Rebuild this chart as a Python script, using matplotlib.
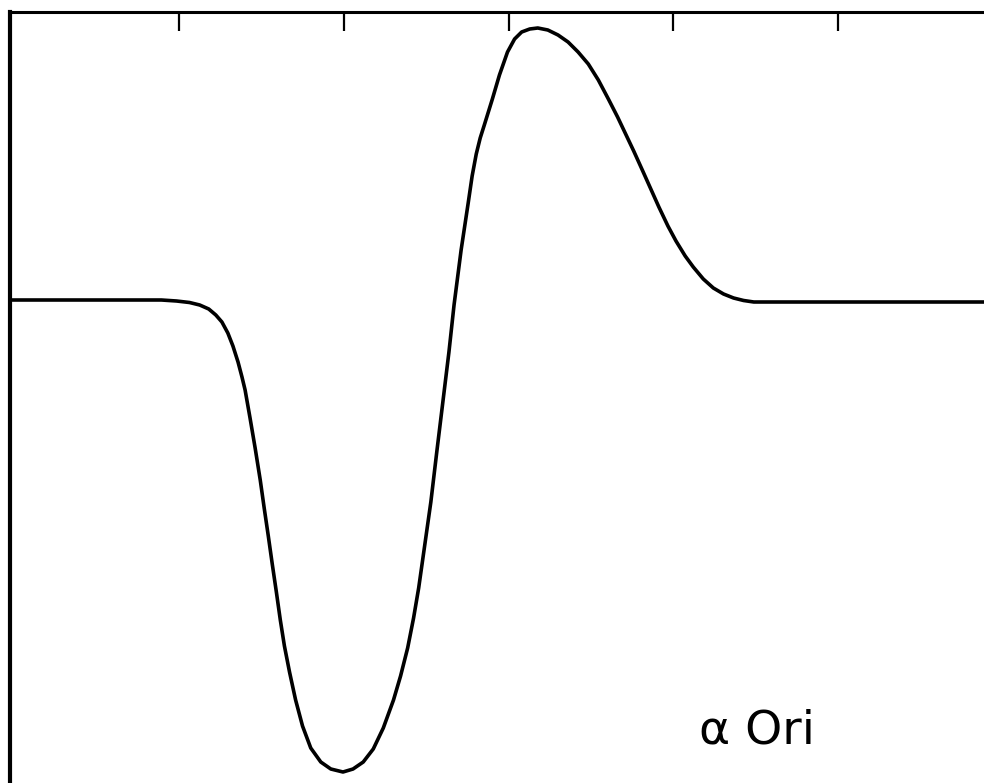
import matplotlib
matplotlib.use("Agg")
import matplotlib.pyplot as plt

# Line profile (arbitrary units)
x_vals = [-1.031, -0.479, -0.110, -0.018, 0.061, 0.123, 0.178, 0.221, 0.258, 0.294,
          0.325, 0.356, 0.380, 0.399, 0.429, 0.460, 0.491, 0.515, 0.540, 0.564,
          0.589, 0.613, 0.638, 0.669, 0.706, 0.748, 0.798, 0.859, 0.920, 0.994,
          1.055, 1.117, 1.178, 1.239, 1.301, 1.344, 1.387, 1.423, 1.454, 1.485,
          1.528, 1.564, 1.601, 1.638, 1.669, 1.712, 1.755, 1.779, 1.804, 1.828,
          1.853, 1.902, 1.945, 1.994, 2.037, 2.080, 2.129, 2.178,
          2.239, 2.301, 2.362, 2.423, 2.485, 2.546, 2.607, 2.663, 2.712, 2.761,
          2.816, 2.865, 2.914, 2.969, 3.018, 3.074, 3.123, 3.184, 3.245, 3.307,
          3.368, 3.429, 3.491, 4.123, 4.945]
y_vals = [0.00, 0.00, 0.00, -0.01, -0.025, -0.05, -0.09, -0.15, -0.22, -0.33,
          -0.46, -0.62, -0.77, -0.90, -1.18, -1.48, -1.80, -2.08, -2.36, -2.64,
          -2.92, -3.20, -3.46, -3.72, -4.00, -4.26, -4.48, -4.62, -4.69, -4.72,
          -4.69, -4.62, -4.49, -4.28, -4.00, -3.76, -3.48, -3.18, -2.88, -2.52,
          -2.02, -1.52, -1.02, -0.52, -0.05, 0.50, 0.97, 1.24, 1.46, 1.62,
          1.75, 2.01, 2.25, 2.48, 2.61, 2.68, 2.71, 2.72,
          2.70, 2.65, 2.58, 2.48, 2.36, 2.20, 2.01, 1.83, 1.66, 1.49,
          1.29, 1.11, 0.93, 0.74, 0.59, 0.44, 0.33, 0.21, 0.12, 0.06,
          0.02, -0.005, -0.02, -0.02, -0.02]
x_ticks = [0, 1, 2, 3, 4]
label = "α Ori"

W, H = 984, 783
fig = plt.figure(figsize=(W / 100, H / 100), dpi=100)
ax = fig.add_axes([10 / W, 0.0, 1 - 10 / W + 0.01, (H - 12) / H])

ax.plot(x_vals, y_vals, color="black", lw=2.6, solid_joinstyle="round",
        solid_capstyle="round")

ax.set_xlim(-1.03, 4.95)
ax.set_ylim(-4.83, 2.88)

for s in ("right", "bottom"):
    ax.spines[s].set_visible(False)
ax.spines["left"].set_linewidth(3.0)
ax.spines["top"].set_linewidth(2.2)

ax.xaxis.tick_top()
ax.set_xticks(x_ticks)
ax.set_xticklabels([])
ax.tick_params(axis="x", direction="in", length=14, width=1.6, top=True,
               bottom=False, color="black")
ax.set_yticks([])

ax.text(3.16, -4.43, label, fontsize=34, family="DejaVu Sans",
        ha="left", va="baseline", color="black")

fig.savefig("out.png", dpi=100)
